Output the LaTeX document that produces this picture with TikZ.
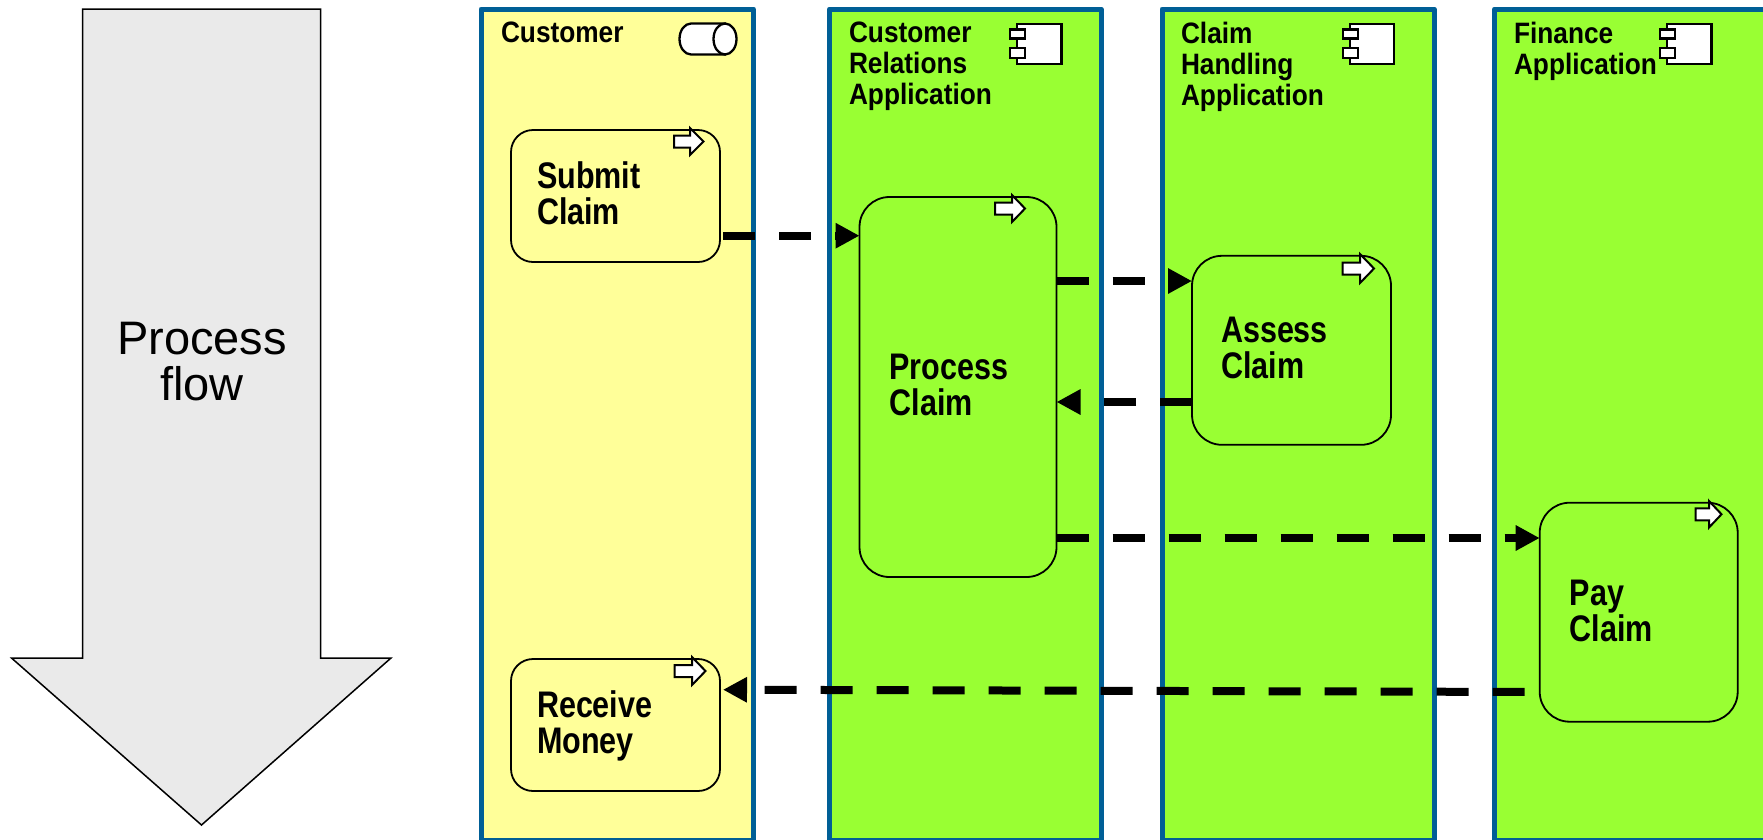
\documentclass[tikz,border=0pt]{standalone}
\usepackage{fontspec}
\setmainfont{Liberation Sans}
\newfontfamily\condfont{Liberation Sans}[FakeStretch=0.825]
\newfontfamily\titlefont{Liberation Sans}[FakeStretch=0.89]
\usetikzlibrary{arrows.meta}
\definecolor{laneblue}{HTML}{005F96}
\definecolor{laneyellow}{HTML}{FFFF99}
\definecolor{lanegreen}{HTML}{99FF33}
\definecolor{flowgrey}{HTML}{EAEAEA}
\tikzset{
  x=1pt,y=-1pt,
  lanebox/.style={draw=laneblue,line width=5pt,line join=round},
  lanetitle/.style={anchor=north west,inner sep=0pt,outer sep=0pt,align=left,
    font=\fontsize{29.5}{31}\selectfont\titlefont\bfseries},
  procbox/.style={draw=black,line width=1.8pt,rounded corners=#1,outer sep=0pt,inner ysep=0pt,
    align=left,font=\fontsize{37}{36}\selectfont\condfont\bfseries},
  icon/.style={draw=black,fill=white,line width=2.3pt,line join=miter},
  flowline/.style={draw=black,line width=8pt,dash pattern=on 32pt off 24pt,
    -{Triangle[length=24pt,width=24pt]}},
}
\newcommand{\compicon}[2]{%
  \draw[icon] (#1+7,#2+23.7) rectangle (#1+51.5,#2+64);
  \draw[icon] (#1,#2+29.5) rectangle (#1+15,#2+38.5);
  \draw[icon] (#1,#2+48) rectangle (#1+15,#2+58);
}
\newcommand{\evicon}[5]{%
  \draw[icon,line width=2pt] (#1,{(#3+#4)/2-6}) -- (#5,{(#3+#4)/2-6}) -- (#5,#3) -- (#2,{(#3+#4)/2})
     -- (#5,#4) -- (#5,{(#3+#4)/2+6}) -- (#1,{(#3+#4)/2+6}) -- cycle;
}
\begin{document}
\begin{tikzpicture}
\useasboundingbox (0,0) rectangle (1763,839);
\fill[white] (0,0) rectangle (1763,839);

% process flow arrow
\draw[fill=flowgrey,draw=black,line width=1.5pt,line join=miter]
  (82.5,9) -- (320.7,9) -- (320.7,658) -- (391,658) -- (201.5,825) -- (11.5,658) -- (82.5,658) -- cycle;
\node[name=flowtext,anchor=base,inner sep=0pt,align=center,font=\fontsize{47}{46}\selectfont]
  at (202,400) {Process\\flow};

% lanes
\begin{scope}
\clip (0,0) rectangle (1763,839);
\draw[lanebox,fill=laneyellow] (481,9) rectangle (753.3,840);
\draw[lanebox,fill=lanegreen] (829.6,9) rectangle (1101,840);
\draw[lanebox,fill=lanegreen] (1162,9) rectangle (1434,840);
\draw[lanebox,fill=lanegreen] (1494.5,9) rectangle (1790,840);
\end{scope}

\node[lanetitle,name=t1] at (501,22) {Customer};
\node[lanetitle,name=t2] at (849,22) {Customer\\Relations\\Application};
\node[lanetitle,name=t3] at (1181,22) {Claim\\Handling\\Application};
\node[lanetitle,name=t4] at (1514,22) {Finance\\Application};

% lane icons
\draw[icon] (691,23.5) .. controls (684.65,23.5) and (679.5,30.4) .. (679.5,39)
   .. controls (679.5,47.6) and (684.65,54.5) .. (691,54.5) -- (725,54.5) -- (725,23.5) -- cycle;
\draw[icon] (725,39) circle[x radius=11.5,y radius=15.5];
\compicon{1010}{0}
\compicon{1342.7}{0}
\compicon{1660}{0}

% process boxes
\node[procbox=22pt,fill=laneyellow,name=submit,minimum width=209pt,minimum height=132pt,
  text width=157pt,text depth=42.8pt] at (615.5,196) {Submit\\Claim};
\node[procbox=30pt,fill=lanegreen,name=process,minimum width=197pt,minimum height=380pt,
  text width=137pt,text depth=40.5pt] at (958,387) {Process\\Claim};
\node[procbox=30pt,fill=lanegreen,name=assess,minimum width=199pt,minimum height=189pt,
  text width=141pt,text depth=40.5pt] at (1291.5,350.3) {Assess\\Claim};
\node[procbox=30pt,fill=lanegreen,name=pay,minimum width=198pt,minimum height=219pt,
  text width=138pt,text depth=38pt] at (1638.7,612.2) {Pay\\Claim};
\node[procbox=22pt,fill=laneyellow,name=receive,minimum width=209pt,minimum height=132pt,
  text width=157pt,text depth=41.8pt] at (615.5,725) {Receive\\Money};

% activity icons
\evicon{674}{703.5}{128}{155}{690}
\evicon{995}{1025}{195}{222}{1012}
\evicon{1342.5}{1374}{254}{283}{1360}
\evicon{1695.5}{1721.5}{501}{527.5}{1709}
\evicon{674.5}{705.5}{657}{685}{692}

% connectors
\coordinate (c1) at ([xshift=3pt,yshift=-39.7pt]submit.east);
\coordinate (c2) at ([yshift=69.3pt]assess.west);
\coordinate (c3) at ([yshift=-51.7pt]assess.west);
\coordinate (c4) at ([yshift=74.2pt]pay.west);
\coordinate (c5) at ([yshift=-79.8pt]pay.west);
\coordinate (c6) at ([xshift=3pt,yshift=35.3pt]receive.east);
\draw[flowline] (c1) -- (c1 -| process.west);
\draw[flowline] (c2 -| process.east) -- (c2);
\draw[flowline] (c3) -- (c3 -| process.east);
\draw[flowline] (c4 -| process.east) -- (c4);
\draw[flowline,dash phase=41pt] (c5) -- (c6);
\end{tikzpicture}
\end{document}
